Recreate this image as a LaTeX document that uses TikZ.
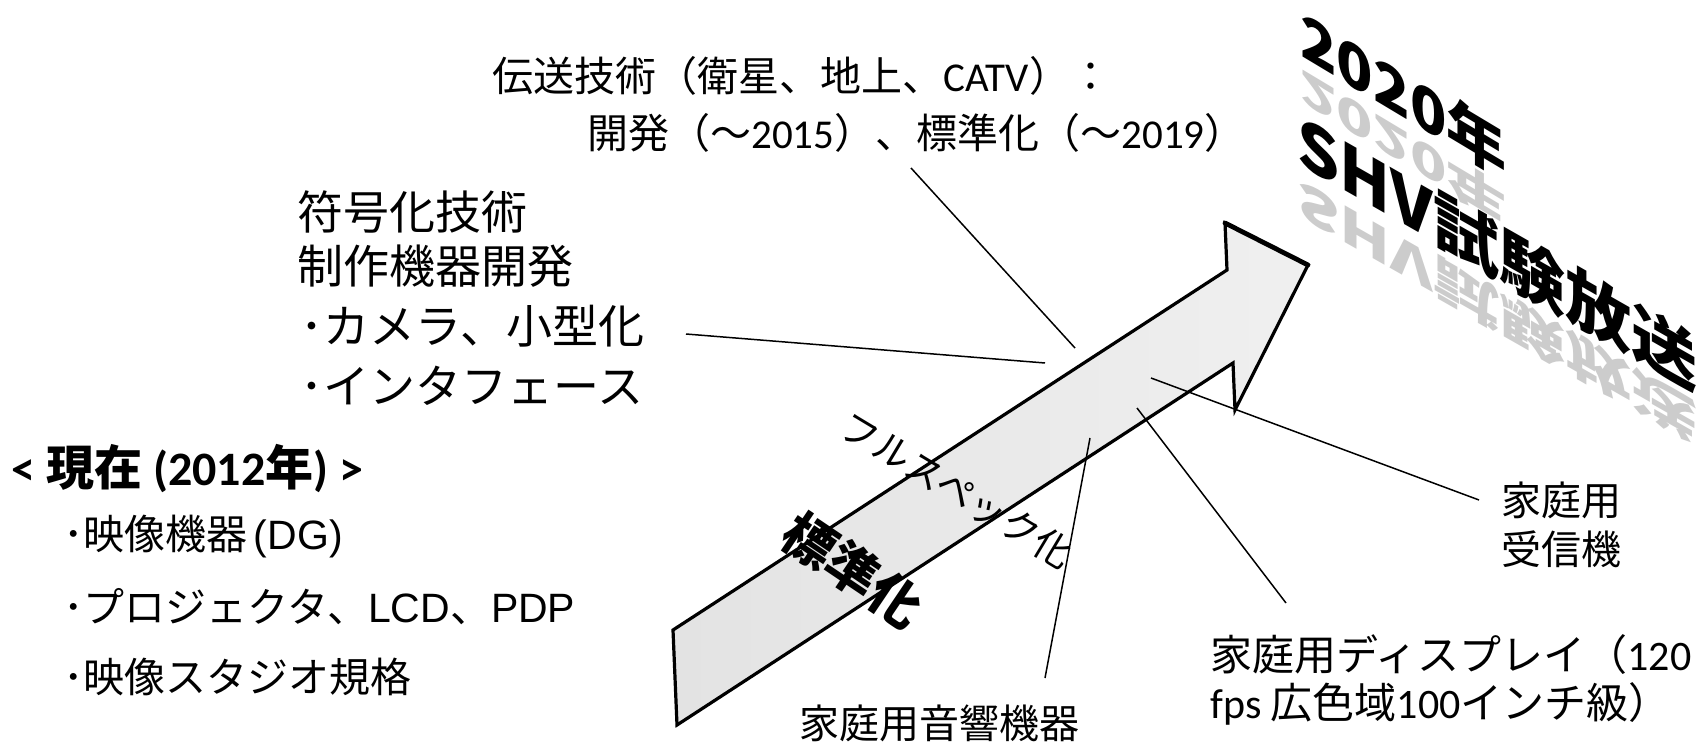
\documentclass[tikz,border=0pt]{standalone}
\usepackage{fontspec}
\setmainfont{Noto Sans CJK JP}
\newfontfamily\calfont{Carlito}
\newfontfamily\arifont{Liberation Sans}
\newcommand\fsz[1]{\fontsize{#1}{#1}\selectfont}
\newcommand\ca[1]{{\calfont #1}}
\newcommand\ar[1]{{\arifont #1}}
\tikzset{
  lbl/.style={inner sep=0pt, anchor=west},
  conn/.style={draw=black, line width=0.75pt},
  arrowbody/.style={draw=black, left color=black!11, right color=black!6, line width=1.6pt, line join=miter},
  titletext/.style={inner sep=0pt, anchor=base west, font=\bfseries},
  refl/.style={inner sep=0pt, anchor=base west, font=\bfseries, text=black!20}
}
\begin{document}
\begin{tikzpicture}[x=0.5pt, y=-0.5pt]
\useasboundingbox (0,0) rectangle (1704,754);

% ---- big arrow ----
\coordinate (a1) at (673,630);
\coordinate (a2) at (1227,270);
\coordinate (a3) at (1225,223);
\coordinate (a4) at (1308,265);
\coordinate (a5) at (1235,410);
\coordinate (a6) at (1233,363);
\coordinate (a7) at (677,725);
\draw[arrowbody] (a1) -- (a2) -- (a3) -- (a4) -- (a5) -- (a6) -- (a7) -- cycle;
\draw[line width=2.4pt, line cap=round] (a3) -- (a4);

% ---- texts on the arrow ----
\node[font=\fsz{19pt}, rotate=-31, inner sep=0pt] (fs) at (957,490) {フルスペック化};
\node[font=\bfseries\fsz{26pt}, rotate=-34, inner sep=0pt] (hy) at (853,570) {標準化};

% ---- title (3D) ----
\node[refl, font=\bfseries\fsz{30pt}, yslant=-0.6, yscale=-0.75] (t1r) at (1300,68) {2020年};
\node[refl, font=\bfseries\fsz{33pt}, yslant=-0.57, yscale=-0.75] (t2r) at (1297,178) {SHV試験放送};
\node[titletext, font=\bfseries\fsz{30pt}, yslant=-0.6] (t1) at (1300,55) {2020年};
\node[titletext, font=\bfseries\fsz{33pt}, yslant=-0.57] (t2) at (1297,163) {SHV試験放送};

% ---- top text ----
\node[lbl, font=\fsz{20.5pt}] (tx1) at (492,76) {伝送技術（衛星、地上、\ca{CATV}）：};
\node[lbl, font=\fsz{20.5pt}] (tx2) at (587,133) {開発（～\ca{2015}）、標準化（～\ca{2019}）};

% ---- coding block ----
\node[lbl, font=\fsz{23pt}] (cod1) at (297,212) {符号化技術};
\node[lbl, font=\fsz{23pt}] (cod2) at (297,266) {制作機器開発};
\node[lbl, font=\fsz{23pt}] (cod3) at (300,326) {･カメラ、小型化};
\node[lbl, font=\fsz{23pt}] (cod4) at (300,386) {･インタフェース};

% ---- current block ----
\node[lbl, font=\bfseries\fsz{24pt}] (now0) at (11,469) {\ca{<} 現在 \ca{(2012}年\ca{)} \ca{>}};
\node[lbl, font=\fsz{20.5pt}] (now1) at (63,537) {･映像機器\kern3pt\ar{(DG)}};
\node[lbl, font=\fsz{20.5pt}] (now2) at (63,607) {･プロジェクタ、\ar{LCD}、\ar{PDP}};
\node[lbl, font=\fsz{20.5pt}] (now3) at (63,677) {･映像スタジオ規格};

% ---- bottom labels ----
\node[lbl, font=\fsz{20pt}] (snd) at (799,723) {家庭用音響機器};
\node[lbl, font=\fsz{21pt}] (disp1) at (1210,655) {家庭用ディスプレイ（\ca{120}};
\node[lbl, font=\fsz{21pt}] (disp2) at (1210,704) {\ca{fps} 広色域\ca{100}インチ級）};
\node[font=\fsz{20pt}, inner sep=0pt, align=center] (rcv1) at (1561,500) {家庭用};
\node[font=\fsz{20pt}, inner sep=0pt, align=center] (rcv2) at (1561,549) {受信機};

% ---- connectors ----
\coordinate (c1s) at (911,168);  \coordinate (c1e) at (1075,348);
\coordinate (c2s) at (686,334);  \coordinate (c2e) at (1045,363);
\coordinate (c3s) at (1151,378); \coordinate (c3e) at (1479,500);
\coordinate (c4s) at (1137,408); \coordinate (c4e) at (1286,603);
\coordinate (c5s) at (1090,438); \coordinate (c5e) at (1045,678);
\draw[conn] (c1s) -- (c1e);
\draw[conn] (c2s) -- (c2e);
\draw[conn] (c3s) -- (c3e);
\draw[conn] (c4s) -- (c4e);
\draw[conn] (c5s) -- (c5e);
\end{tikzpicture}
\end{document}
